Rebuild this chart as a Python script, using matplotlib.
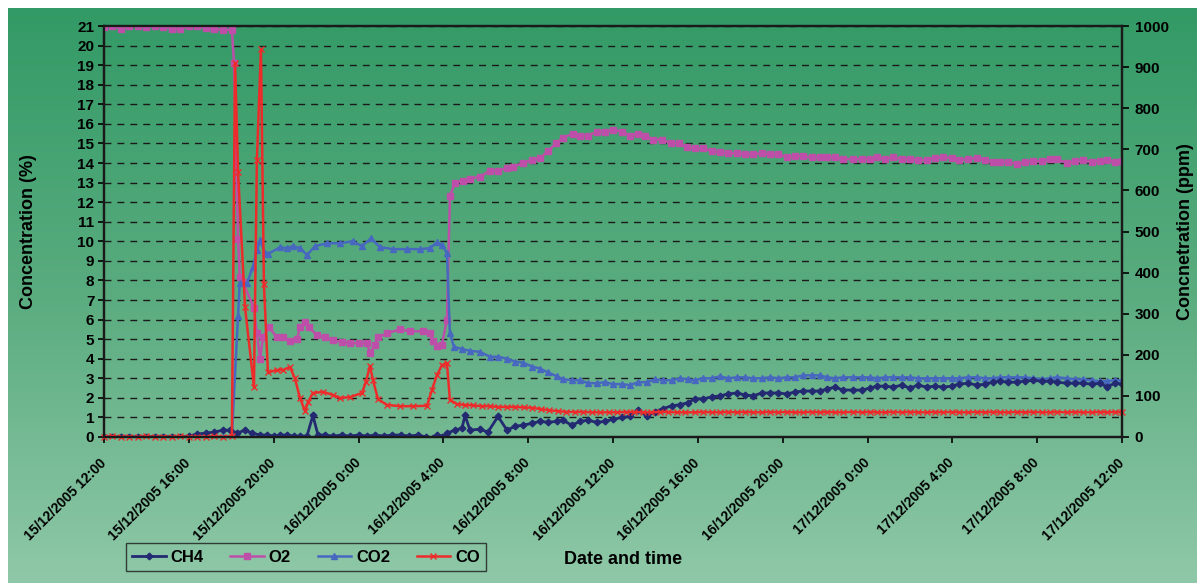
"""
Gas concentrations 15-17/12/2005: CH4, O2, CO2 (%) and CO (ppm).
Excel-style look: green gradient background, dashed black grid.
"""

import numpy as np
import pandas as pd
import matplotlib
matplotlib.use('Agg')
import matplotlib.pyplot as plt
import matplotlib.dates as mdates
from matplotlib import rcParams
from matplotlib.colors import LinearSegmentedColormap
from matplotlib.lines import Line2D
from matplotlib.ticker import FuncFormatter, MultipleLocator

rcParams['font.family'] = ['Liberation Sans', 'DejaVu Sans']
rcParams['font.weight'] = 'bold'
rcParams['axes.linewidth'] = 1.6

START = pd.Timestamp('2005-12-15 12:00')
END = pd.Timestamp('2005-12-17 12:00')

# ── data (hours since 15/12/2005 12:00) ──────────────────────────────────────
T_FLAT = [0.0, 0.4, 0.8, 1.2, 1.6, 2.0, 2.4, 2.8, 3.2, 3.6, 4.0, 4.4, 4.8, 5.2, 5.6]

T_LATE = [27.86, 28.24, 28.67, 29.04, 29.42, 29.84, 30.22, 30.6, 31.02, 31.4,
          31.78, 32.2, 32.58, 32.96, 33.38, 33.76, 34.09, 34.47, 34.84, 35.31,
          35.74, 36.12, 36.45, 36.82, 37.2, 37.62, 38.0, 38.38, 38.8, 39.18,
          39.56, 39.98, 40.31, 40.74, 41.16, 41.54, 41.91, 42.24, 42.62, 43.05,
          43.42, 43.8, 44.22, 44.6, 44.93, 45.4, 45.78, 46.16, 46.58, 46.96,
          47.29, 47.67, 48.0]

# CH4 (%)
CH4_FLAT = [0.0, 0.0, 0.02, 0.0, 0.0, 0.02, 0.0, 0.0, 0.02, 0.0, 0.05, 0.15, 0.2, 0.25, 0.35]
CH4_MID_T = [5.94, 6.27, 6.65, 6.98, 7.36, 7.7, 8.0, 8.3, 8.63, 8.95,
             9.24, 9.57, 9.85, 10.09, 10.4, 10.8, 11.2, 11.6, 12.0, 12.4,
             12.8, 13.2, 13.6, 14.0, 14.4, 14.8, 15.2, 15.5, 15.7, 15.94,
             16.17, 16.55, 16.88, 17.02, 17.26, 17.73, 18.1, 18.58, 19.0, 19.38,
             19.75, 20.18, 20.56, 20.93, 21.36, 21.64, 22.07, 22.44, 22.82, 23.24,
             23.62, 24.0, 24.42, 24.8, 25.18, 25.6, 25.98, 26.36, 26.78, 27.16, 27.53]
CH4_MID = [0.35, 0.2, 0.35, 0.2, 0.1, 0.1, 0.05, 0.1, 0.1, 0.05,
           0.05, 0.05, 1.1, 0.1, 0.1, 0.05, 0.1, 0.05, 0.1, 0.05,
           0.1, 0.05, 0.1, 0.1, 0.05, 0.1, 0.0, -0.05, 0.1, 0.0,
           0.2, 0.35, 0.45, 1.1, 0.35, 0.4, 0.25, 1.05, 0.35, 0.55,
           0.6, 0.7, 0.8, 0.75, 0.8, 0.85, 0.6, 0.8, 0.85, 0.75,
           0.8, 0.9, 1.0, 1.05, 1.4, 1.05, 1.3, 1.45, 1.6, 1.65, 1.75]
CH4_LATE = [1.95, 1.95, 2.05, 2.1, 2.2, 2.25, 2.15, 2.1, 2.25, 2.25,
            2.25, 2.2, 2.3, 2.35, 2.35, 2.35, 2.45, 2.55, 2.4, 2.4,
            2.4, 2.5, 2.6, 2.6, 2.55, 2.65, 2.5, 2.65, 2.55, 2.6,
            2.55, 2.6, 2.7, 2.75, 2.65, 2.7, 2.8, 2.85, 2.8, 2.8,
            2.85, 2.9, 2.85, 2.85, 2.8, 2.75, 2.75, 2.75, 2.7, 2.75,
            2.55, 2.75, 2.7]

# O2 (%)
O2_FLAT = [20.95, 21.0, 20.85, 21.0, 21.0, 20.95, 21.0, 20.95, 20.85, 20.85,
           21.0, 21.0, 20.9, 20.85, 20.8]
O2_MID_T = [6.03, 6.13, 6.32, 6.4, 6.55, 7.07, 7.21, 7.36, 7.5, 7.78,
            8.16, 8.44, 8.77, 9.1, 9.24, 9.48, 9.67, 10.04, 10.4, 10.8,
            11.2, 11.6, 12.0, 12.4, 12.54, 12.78, 12.92, 13.35, 13.96, 14.43,
            15.04, 15.37, 15.51, 15.7, 15.93, 16.17, 16.31, 16.55, 16.93, 17.26,
            17.73, 18.2, 18.58, 19.0, 19.28, 19.75, 20.18, 20.56, 20.93, 21.31,
            21.64, 22.11, 22.44, 22.82, 23.24, 23.62, 24.0, 24.42, 24.8, 25.18,
            25.51, 25.88, 26.31, 26.73, 27.11, 27.49]
O2_MID = [20.8, 19.1, 10.1, 8.2, 7.9, 6.6, 5.3, 4.0, 5.1, 5.6,
          5.1, 5.1, 4.9, 5.0, 5.6, 5.9, 5.6, 5.2, 5.1, 4.95,
          4.85, 4.8, 4.8, 4.8, 4.3, 4.7, 5.1, 5.3, 5.5, 5.4,
          5.4, 5.3, 4.9, 4.65, 4.7, 6.0, 12.3, 13.0, 13.1, 13.2,
          13.3, 13.6, 13.6, 13.75, 13.8, 14.0, 14.15, 14.25, 14.6, 15.0,
          15.3, 15.5, 15.4, 15.4, 15.6, 15.6, 15.7, 15.6, 15.4, 15.5,
          15.4, 15.2, 15.2, 15.0, 15.0, 14.8]
O2_LATE = [14.75, 14.75, 14.6, 14.55, 14.5, 14.5, 14.45, 14.45, 14.5, 14.45,
           14.45, 14.3, 14.35, 14.35, 14.3, 14.3, 14.3, 14.3, 14.2, 14.2,
           14.2, 14.2, 14.3, 14.2, 14.3, 14.2, 14.2, 14.15, 14.15, 14.25,
           14.3, 14.25, 14.15, 14.2, 14.25, 14.15, 14.05, 14.05, 14.05, 13.95,
           14.05, 14.1, 14.1, 14.2, 14.2, 14.0, 14.1, 14.15, 14.05, 14.1,
           14.15, 14.05, 14.1]

# CO2 (%)
CO2_FLAT = [0.0, 0.02, 0.0, 0.0, 0.02, 0.0, 0.0, 0.02, 0.0, 0.0, 0.02, 0.0, 0.0, 0.02, 0.0]
CO2_MID_T = [6.03, 6.32, 6.4, 6.74, 7.02, 7.21, 7.36, 7.59, 7.73, 8.3,
             8.63, 8.91, 9.24, 9.57, 9.95, 10.51, 11.13, 11.74, 12.16, 12.59,
             13.01, 13.63, 14.29, 14.9, 15.37, 15.7, 15.94, 16.17, 16.31, 16.5,
             16.88, 17.26, 17.73, 18.2, 18.58, 19.0, 19.38, 19.75, 20.18, 20.56,
             20.93, 21.36, 21.64, 22.07, 22.44, 22.82, 23.24, 23.62, 24.0, 24.42,
             24.8, 25.18, 25.6, 25.98, 26.36, 26.78, 27.16, 27.53]
CO2_MID = [0.05, 6.2, 7.85, 7.85, 8.7, 9.55, 10.05, 9.4, 9.35, 9.7,
           9.65, 9.75, 9.65, 9.3, 9.75, 9.9, 9.9, 10.0, 9.75, 10.15,
           9.7, 9.6, 9.6, 9.6, 9.65, 9.95, 9.8, 9.4, 5.3, 4.6,
           4.5, 4.4, 4.35, 4.1, 4.1, 4.0, 3.85, 3.8, 3.6, 3.5,
           3.3, 3.1, 2.95, 2.9, 2.9, 2.75, 2.75, 2.8, 2.7, 2.7,
           2.65, 2.8, 2.8, 2.95, 2.9, 2.9, 3.0, 2.95]
CO2_LATE = [2.9, 3.0, 3.0, 3.1, 3.0, 3.05, 3.05, 3.0, 3.0, 3.05,
            3.0, 3.05, 3.05, 3.15, 3.15, 3.15, 3.05, 3.0, 3.05, 3.05,
            3.05, 3.05, 3.0, 3.05, 3.05, 3.05, 3.05, 3.0, 3.0, 3.0,
            3.0, 3.0, 3.0, 3.05, 3.05, 3.0, 3.0, 3.05, 3.05, 3.05,
            3.05, 3.0, 2.95, 3.0, 3.05, 3.0, 2.95, 2.95, 2.9, 2.85,
            2.85, 2.9, 2.9]

# CO (ppm, right axis)
CO_FLAT = [0, 2, 0, 1, 0, 2, 0, 1, 0, 2, 0, 1, 0, 2, 0]
CO_MID_T = [6.03, 6.18, 6.32, 6.65, 7.07, 7.21, 7.4, 7.54, 7.73, 8.16,
            8.44, 8.77, 9.0, 9.24, 9.48, 9.62, 9.85, 10.33, 10.8, 11.13,
            11.6, 12.16, 12.35, 12.54, 12.68, 12.92, 13.34, 13.96, 14.57, 15.23,
            15.46, 15.7, 15.94, 16.17, 16.31, 16.64, 17.0, 17.4, 17.8, 18.2,
            18.6, 19.0, 19.4, 19.8, 20.2, 20.6, 21.0, 21.4, 21.8, 22.2,
            22.6, 23.0, 23.4, 23.8, 24.2, 24.6, 25.0, 25.4, 25.8, 26.2,
            26.6, 27.0, 27.4]
CO_MID = [2, 910, 645, 316, 122, 675, 943, 372, 157, 163,
          163, 170, 143, 95, 63, 85, 107, 110, 102, 95,
          97, 107, 134, 173, 139, 92, 78, 75, 75, 76,
          114, 151, 175, 180, 90, 80, 78, 77, 75, 75,
          73, 73, 73, 72, 71, 68, 65, 63, 61, 61,
          61, 60, 60, 60, 60, 61, 61, 60, 60, 61,
          61, 60, 60]
CO_LATE = [60, 61, 60, 60, 61, 60, 61, 60, 60, 61,
           60, 61, 60, 60, 61, 60, 61, 60, 60, 61,
           60, 61, 60, 60, 61, 60, 61, 60, 60, 61,
           60, 61, 60, 60, 61, 60, 61, 60, 60, 61,
           60, 61, 60, 60, 61, 60, 61, 60, 60, 61,
           60, 61, 60]

C_CH4 = '#232a72'
C_O2 = '#be4fa9'
C_CO2 = '#4868c0'
C_CO = '#ee2b2b'


def to_time(hours):
    return START + pd.to_timedelta(np.asarray(hours, dtype=float), unit='h')


def series(mid_t, flat, mid, late):
    t = to_time(list(T_FLAT) + list(mid_t) + list(T_LATE))
    return t, np.array(list(flat) + list(mid) + list(late), dtype=float)


W, H = 1199, 583
fig = plt.figure(figsize=(W / 100, H / 100), dpi=100)
fig.patch.set_facecolor('white')

# green gradient background
bg = fig.add_axes([8 / W, 0, (1197 - 8) / W, (H - 8) / H], zorder=-10)
cmap = LinearSegmentedColormap.from_list('bg', ['#329a66', '#5aac7f', '#8fc8a8'])
bg.imshow(np.linspace(0, 1, 256).reshape(-1, 1), aspect='auto', cmap=cmap,
          extent=[0, 1, 0, 1])
bg.set_axis_off()

ax = fig.add_axes([104 / W, (H - 437) / H, (1122 - 104) / W, (437 - 26) / H])
ax.patch.set_alpha(0)
ax2 = ax.twinx()
ax2.patch.set_alpha(0)

t, v = series(CH4_MID_T, CH4_FLAT, CH4_MID, CH4_LATE)
ax.plot(t, v, color=C_CH4, marker='D', markersize=3.4, linewidth=2.0, zorder=4)
t, v = series(O2_MID_T, O2_FLAT, O2_MID, O2_LATE)
ax.plot(t, v, color=C_O2, marker='s', markersize=4.2, linewidth=1.8, zorder=3)
t, v = series(CO2_MID_T, CO2_FLAT, CO2_MID, CO2_LATE)
ax.plot(t, v, color=C_CO2, marker='^', markersize=4.8, linewidth=1.8, zorder=3)
t, v = series(CO_MID_T, CO_FLAT, CO_MID, CO_LATE)
ax2.plot(t, v, color=C_CO, marker='x', markersize=4, markeredgewidth=1.0,
         linewidth=1.8, clip_on=False)

# left axis
ax.set_xlim(START, END)
ax.set_ylim(0, 21)
ax.yaxis.set_major_locator(MultipleLocator(1))
ax.yaxis.grid(True, linestyle=(0, (5, 4.3)), color='#1a1a1a', linewidth=1.0)
ax.set_axisbelow(True)
ax.tick_params(axis='y', direction='out', length=4, width=1.2, labelsize=11, pad=3)
ax.set_ylabel('Concentration (%)', fontsize=13, fontweight='bold', labelpad=29)

# bottom axis
ax.xaxis.set_major_locator(mdates.HourLocator(byhour=[0, 4, 8, 12, 16, 20]))
ax.xaxis.set_major_formatter(FuncFormatter(
    lambda x, pos: (lambda d: f'{d.day}/{d.month}/{d.year} {d.hour}:{d.minute:02d}')(
        mdates.num2date(x))))
ax.tick_params(axis='x', direction='out', length=4, width=1.2, labelsize=10, pad=13)
for lab in ax.get_xticklabels():
    lab.set_rotation(45)
    lab.set_ha('right')
    lab.set_va('center')
    lab.set_rotation_mode('anchor')

# right axis
ax2.set_ylim(0, 1000)
ax2.yaxis.set_major_locator(MultipleLocator(100))
ax2.tick_params(axis='y', direction='out', length=5, width=1.2, labelsize=11, pad=4)
ax2.set_ylabel('Concnetration (ppm)', fontsize=13, fontweight='bold', labelpad=6)

for a in (ax, ax2):
    for s in a.spines.values():
        s.set_color('#1a1a1a')
        s.set_linewidth(1.6)

fig.text(623 / W, 1 - 560 / H, 'Date and time', ha='center', va='center',
         fontsize=13, fontweight='bold')

handles = [
    Line2D([], [], color=C_CH4, marker='D', markersize=3.4, linewidth=2.0),
    Line2D([], [], color=C_O2, marker='s', markersize=4.2, linewidth=1.8),
    Line2D([], [], color=C_CO2, marker='^', markersize=4.8, linewidth=1.8),
    Line2D([], [], color=C_CO, marker='x', markersize=4, linewidth=1.8),
]
leg = fig.legend(handles, ['CH4', 'O2', 'CO2', 'CO'], ncol=4, loc='center',
                 bbox_to_anchor=(306 / W, 1 - 557 / H), fontsize=12,
                 frameon=True, fancybox=False, edgecolor='#1a1a1a',
                 facecolor='none', handlelength=2.0, handletextpad=0.3,
                 columnspacing=1.6, borderpad=0.4)
leg.get_frame().set_linewidth(1.0)

fig.savefig('out.png', dpi=100)
